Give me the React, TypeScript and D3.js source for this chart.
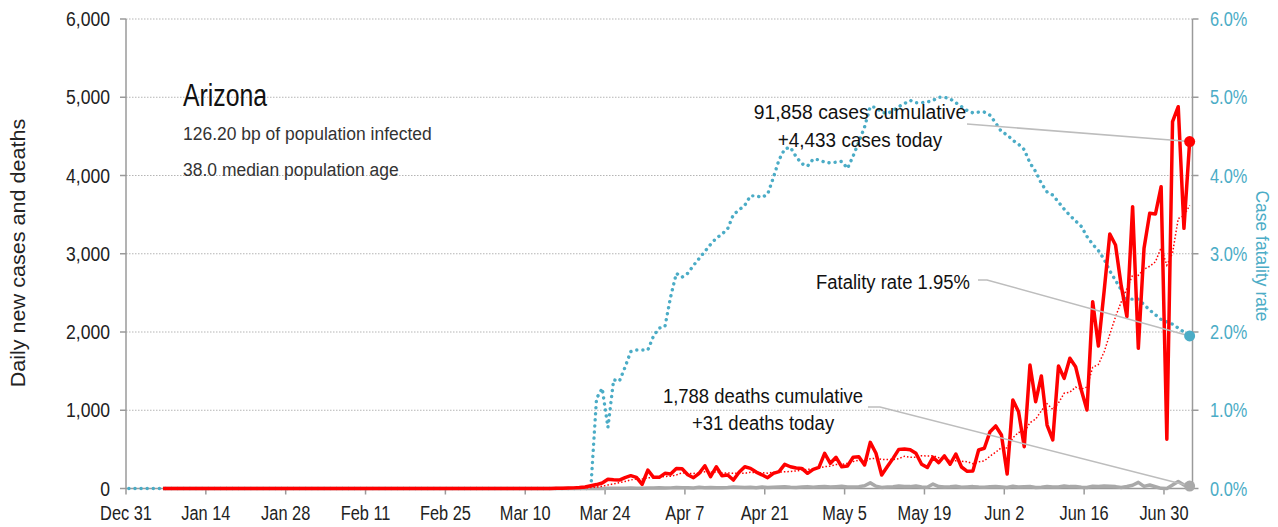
import * as d3 from "d3";
import type { ReactNode } from "react";

const WIDTH = 1278;
const HEIGHT = 527;
const FONT = "'Liberation Sans', Arial, sans-serif";
const BLUE = "#4bacc6";
const RED = "#ff0000";
const GREY = "#a9a9a9";
const AXIS = "#9a9a9a";
const LEADER = "#bdbdbd";

const stateName = "Arizona";
const infectedBp = 126.2;
const medianAge = 38.0;
const casesCumulative = 91858;
const deathsCumulative = 1788;

// ticks every two weeks, starting Dec 31
const xTickLabels = [
  "Dec 31", "Jan 14", "Jan 28", "Feb 11", "Feb 25", "Mar 10", "Mar 24",
  "Apr 7", "Apr 21", "May 5", "May 19", "Jun 2", "Jun 16", "Jun 30",
];
const yTicks = [0, 1000, 2000, 3000, 4000, 5000, 6000];
const rateTicks = [0, 1, 2, 3, 4, 5, 6];

// day numbers count from Dec 31, 2019 (day 0)
const seriesStartDay = 6; // cases / deaths lines begin here (flat zero)
const lastDay = 186;

const casesFirstDay = 75;
const dailyCases = [
  2, 3, 5, 8, 12, 20, 36, 50, 70, 118,
  112, 108, 140, 164, 143, 54, 236, 143, 143, 194,
  185, 257, 252, 176, 138, 194, 291, 151, 278, 163,
  172, 108, 207, 278, 257, 210, 175, 138, 194, 215,
  309, 278, 262, 257, 194, 245, 271, 450, 322, 399,
  278, 287, 399, 405, 300, 590, 450, 172, 280, 385,
  500, 505, 495, 450, 310, 268, 399, 331, 416, 310,
  440, 275, 220, 225, 492, 514, 726, 799, 684, 185,
  1131, 981, 534, 1578, 1109, 1438, 811, 620, 1565, 1408,
  1664, 1557, 1259, 1003, 2387, 1821, 2519, 3252, 3112, 2592,
  2196, 3602, 1792, 3070, 3517, 3508, 3857, 629, 4688, 4879,
  3325, 4433,
];

const deathsFirstDay = 75;
const dailyDeaths = [
  0, 0, 0, 0, 0, 0, 0, 1, 1, 2,
  3, 2, 4, 5, 4, 3, 7, 6, 9, 5,
  8, 12, 9, 10, 7, 15, 11, 14, 9, 10,
  12, 18, 15, 13, 16, 11, 20, 14, 17, 19,
  22, 15, 13, 18, 24, 16, 21, 26, 19, 23,
  28, 20, 18, 24, 35, 72, 30, 14, 18, 22,
  31, 27, 24, 33, 20, 16, 57, 25, 19, 21,
  28, 16, 20, 24, 18, 15, 22, 26, 19, 12,
  30, 18, 21, 25, 14, 17, 26, 20, 18, 32,
  24, 27, 16, 12, 30, 25, 31, 28, 24, 14,
  26, 42, 79, 27, 45, 23, 2, 1, 44, 88,
  44, 31,
];

// case fatality rate, percent
const rateFirstDay = 80;
const fatalityRate = [
  0, 0, 1.15, 1.28, 0.78, 1.39, 1.37, 1.55, 1.75, 1.77,
  1.77, 1.77, 1.95, 2.05, 2.07, 2.45, 2.75, 2.7, 2.75, 2.85,
  2.94, 3.03, 3.12, 3.2, 3.25, 3.32, 3.5, 3.56, 3.62, 3.74,
  3.74, 3.72, 3.76, 3.97, 4.2, 4.34, 4.36, 4.24, 4.15, 4.12,
  4.21, 4.2, 4.17, 4.16, 4.17, 4.18, 4.09, 4.25, 4.43, 4.62,
  4.88, 4.87, 4.81, 4.79, 4.83, 4.88, 4.92, 4.96, 4.93, 4.93,
  4.94, 4.96, 5.0, 5.0, 4.98, 4.93, 4.88, 4.83, 4.8, 4.81,
  4.81, 4.77, 4.67, 4.56, 4.52, 4.45, 4.4, 4.33, 4.16, 4.05,
  3.9, 3.79, 3.75, 3.66, 3.57, 3.49, 3.42, 3.35, 3.22, 3.12,
  3.04, 2.93, 2.78, 2.66, 2.54, 2.42, 2.42, 2.42, 2.35, 2.28,
  2.22, 2.16, 2.13, 2.1, 2.05, 2.0, 1.95,
];

type Pt = { date: Date; v: number };

const dayDate = (d: number) => new Date(2019, 11, 31 + d, 12);

function buildSeries(from: number, first: number, vals: number[]): Pt[] {
  const out: Pt[] = [];
  for (let d = from; d <= lastDay; d++) {
    out.push({ date: dayDate(d), v: d < first ? 0 : vals[d - first] });
  }
  return out;
}

const casesSeries = buildSeries(seriesStartDay, casesFirstDay, dailyCases);
const deathsSeries = buildSeries(seriesStartDay, deathsFirstDay, dailyDeaths);
const rateSeries = buildSeries(0, rateFirstDay, fatalityRate);
// trailing 7-day average, as in the source chart
const casesAvg: Pt[] = casesSeries.map((p, i) => ({
  date: p.date,
  v: d3.mean(casesSeries.slice(Math.max(0, i - 6), i + 1), (q) => q.v) ?? 0,
}));

const x = d3
  .scaleTime()
  .domain([new Date(2019, 11, 31), new Date(2020, 6, 5)])
  .range([126, 1192.5]);
const y = d3.scaleLinear().domain([0, 6000]).range([488.5, 19]);
const yRate = d3.scaleLinear().domain([0, 6]).range([488.5, 19]);

const line = d3
  .line<Pt>()
  .x((d) => x(d.date))
  .y((d) => y(d.v));
const rateLine = d3
  .line<Pt>()
  .x((d) => x(d.date))
  .y((d) => yRate(d.v));

const fmtInt = d3.format(",");

// condensed text: the source font is narrow, so squeeze Liberation Sans horizontally
function Label(props: {
  x: number;
  y: number;
  size: number;
  sx: number;
  anchor?: "start" | "middle" | "end";
  fill?: string;
  rotate?: number;
  children: ReactNode;
}) {
  const { x: tx, y: ty, size, sx, anchor = "start", fill = "#222", rotate = 0 } = props;
  return (
    <text
      transform={`translate(${tx},${ty}) rotate(${rotate}) scale(${sx},1)`}
      fontSize={size}
      textAnchor={anchor}
      fill={fill}
    >
      {props.children}
    </text>
  );
}

export default function App() {
  const [x0, x1] = x.range();
  const yBase = y(0);
  const last = casesSeries[casesSeries.length - 1];
  const lastDeath = deathsSeries[deathsSeries.length - 1];
  const lastRate = rateSeries[rateSeries.length - 1];
  const lx = x(last.date);

  return (
    <svg
      width={WIDTH}
      height={HEIGHT}
      style={{ position: "absolute", left: 0, top: 0, display: "block", background: "#fff" }}
      fontFamily={FONT}
    >
      {/* grid */}
      {yTicks.slice(1).map((t) => (
        <line
          key={"g" + t}
          x1={x0}
          x2={x1}
          y1={y(t)}
          y2={y(t)}
          stroke="#b5b5b5"
          strokeWidth={1}
          strokeDasharray="1.5,1.5"
        />
      ))}

      {/* axes */}
      <line x1={x0} x2={x0} y1={y(6000)} y2={yBase} stroke={AXIS} strokeWidth={1.5} />
      <line x1={x1} x2={x1} y1={y(6000)} y2={yBase} stroke={AXIS} strokeWidth={1.5} />
      <line x1={x0} x2={x1} y1={yBase} y2={yBase} stroke={AXIS} strokeWidth={1.5} />
      {yTicks.map((t) => (
        <g key={"yl" + t}>
          <line x1={x0 - 6} x2={x0} y1={y(t)} y2={y(t)} stroke={AXIS} strokeWidth={1.5} />
          <Label x={110} y={y(t) + 7} size={19.5} sx={0.9} anchor="end">
            {fmtInt(t)}
          </Label>
        </g>
      ))}
      {rateTicks.map((t) => (
        <g key={"yr" + t}>
          <line x1={x1} x2={x1 + 6} y1={yRate(t)} y2={yRate(t)} stroke={AXIS} strokeWidth={1.5} />
          <Label x={1210} y={yRate(t) + 7} size={19.5} sx={0.84} fill={BLUE}>
            {t.toFixed(1) + "%"}
          </Label>
        </g>
      ))}
      {xTickLabels.map((lab, i) => {
        const tx = x(d3.timeDay.offset(new Date(2019, 11, 31), i * 14));
        return (
          <g key={"xt" + lab}>
            <line x1={tx} x2={tx} y1={yBase} y2={yBase + 6} stroke={AXIS} strokeWidth={1.5} />
            <Label x={tx} y={520} size={19.5} sx={0.84} anchor="middle">
              {lab}
            </Label>
          </g>
        );
      })}
      <Label x={25} y={253} size={20} sx={1.08} anchor="middle" rotate={-90}>
        Daily new cases and deaths
      </Label>
      <Label x={1256} y={256} size={19} sx={0.92} anchor="middle" rotate={90} fill={BLUE}>
        Case fatality rate
      </Label>

      {/* series */}
      <path
        d={rateLine(rateSeries) ?? ""}
        fill="none"
        stroke={BLUE}
        strokeWidth={3.4}
        strokeLinecap="round"
        strokeDasharray="0.1,6"
      />
      <path d={line(deathsSeries) ?? ""} fill="none" stroke={GREY} strokeWidth={3.5} strokeLinejoin="round" />
      <path
        d={line(casesAvg) ?? ""}
        fill="none"
        stroke={RED}
        strokeWidth={1.5}
        strokeDasharray="1.5,2"
      />
      <path d={line(casesSeries) ?? ""} fill="none" stroke={RED} strokeWidth={3.5} strokeLinejoin="round" />

      {/* title block */}
      <Label x={183} y={106} size={31} sx={0.8} fill="#111">
        {stateName}
      </Label>
      <Label x={183} y={140} size={19} sx={0.92} fill="#333">
        {infectedBp.toFixed(2)} bp of population infected
      </Label>
      <Label x={183} y={176} size={19} sx={0.92} fill="#333">
        {medianAge.toFixed(1)} median population age
      </Label>

      {/* annotations */}
      <polyline
        points={`967,124 ${lx},${y(last.v)}`}
        fill="none"
        stroke={LEADER}
        strokeWidth={1.5}
      />
      <polyline
        points={`978,280 987,280 ${lx},${yRate(lastRate.v)}`}
        fill="none"
        stroke={LEADER}
        strokeWidth={1.5}
      />
      <polyline
        points={`868,407 880,407 ${lx},${y(lastDeath.v)}`}
        fill="none"
        stroke={LEADER}
        strokeWidth={1.5}
      />
      <circle cx={lx} cy={y(last.v)} r={5.5} fill={RED} />
      <circle cx={lx} cy={yRate(lastRate.v)} r={5.5} fill={BLUE} />
      <circle cx={lx} cy={y(lastDeath.v)} r={5.5} fill={GREY} />

      <Label x={860} y={119} size={21} sx={0.92} anchor="middle" fill="#111">
        {fmtInt(casesCumulative)} cases cumulative
      </Label>
      <Label x={860} y={147} size={21} sx={0.9} anchor="middle" fill="#111">
        +{fmtInt(last.v)} cases today
      </Label>
      <Label x={970} y={289} size={21} sx={0.88} anchor="end" fill="#111">
        Fatality rate {lastRate.v.toFixed(2)}%
      </Label>
      <Label x={763} y={403} size={21} sx={0.88} anchor="middle" fill="#111">
        {fmtInt(deathsCumulative)} deaths cumulative
      </Label>
      <Label x={763} y={430} size={21} sx={0.88} anchor="middle" fill="#111">
        +{fmtInt(lastDeath.v)} deaths today
      </Label>
    </svg>
  );
}
